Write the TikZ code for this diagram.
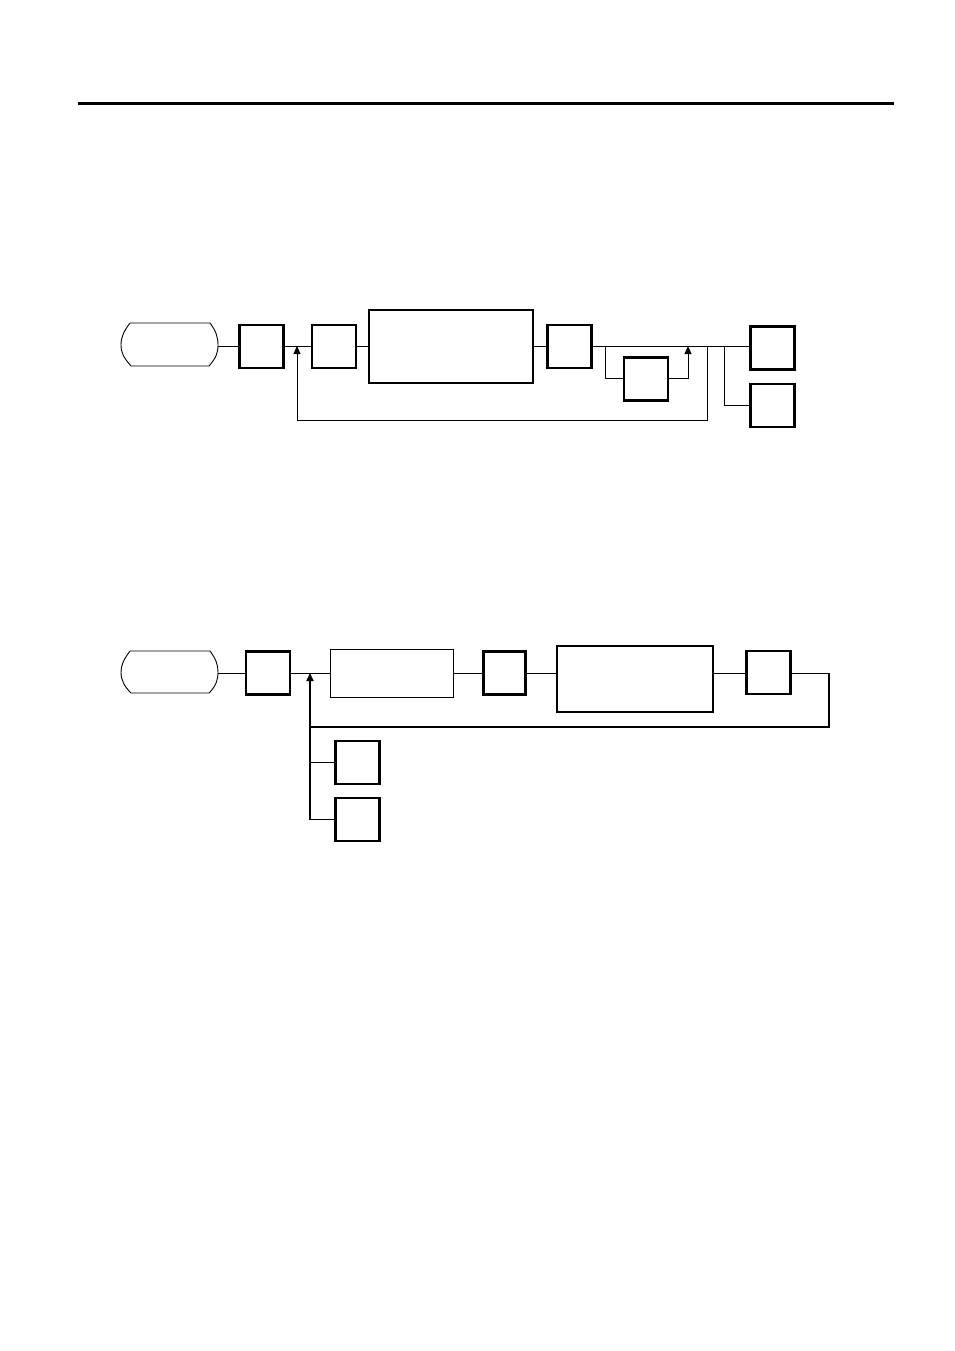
\documentclass[tikz,border=0pt]{standalone}
\usetikzlibrary{arrows.meta}

\tikzset{
  blk/.style={draw,line width=2.8pt,minimum width=44pt,minimum height=43pt,inner sep=0pt},
  bigblk/.style={draw,line width=1.8pt,inner sep=0pt},
  thinblk/.style={draw,line width=1.2pt,inner sep=0pt},
  lnk/.style={line width=0.9pt},
  fbk/.style={line width=1.8pt},
  arr/.style={-{Triangle[length=8pt,width=7pt]}}
}

\begin{document}
\begin{tikzpicture}[x=1pt,y=-1pt]
         \useasboundingbox (0,0) rectangle (954,1351);
         %\draw[very thin,gray,step=50] (0,0) grid (954,1351) ;
         \draw[line width=3pt] (78,103.5) -- (894,103.5) ;
         % first chart
         \draw[lnk] (130,323) -- (210,323) .. controls (216,331) and (218,337) .. (218,345)
            .. controls (218,353) and (216,358) .. (209,366) -- (131,366)
            .. controls (124,358) and (121,353) .. (121,345)
            .. controls (121,337) and (124,331) .. (130,323) ;
         \coordinate (t1) at (218,346) ;
         \node[blk] (a1) at (261.5,346.5) {} ;
         \node[blk] (a2) at (334,346.5) {} ;
         \node[bigblk,minimum width=164pt,minimum height=73pt] (a3) at (451.3,346.5) {} ;
         \node[blk] (a4) at (569.5,346.5) {} ;
         \node[blk] (a5) at (646,378.7) {} ;
         \node[blk] (a6) at (772.7,348) {} ;
         \node[blk] (a7) at (772.7,405.5) {} ;
         \coordinate (j1) at (297,346) ;
         \coordinate (j2) at (707,346) ;
         \coordinate (b1) at (605,346) ;
         \coordinate (b2) at (688,346) ;
         \coordinate (b3) at (724,346) ;
         \draw[lnk] (t1) -- (a1.west |- t1) ;
         \draw[lnk] (a1.east |- t1) -- (a2.west |- t1) ;
         \draw[lnk] (a2.east |- t1) -- (a3.west |- t1) ;
         \draw[lnk] (a3.east |- t1) -- (a4.west |- t1) ;
         \draw[lnk] (a4.east |- t1) -- (a6.west |- t1) ;
         \draw[lnk,arr] (j2) -- (707,420) -| (j1) ;
         \draw[lnk] (b1) |- (a5.west) ;
         \draw[lnk,arr] (a5.east) -| (b2) ;
         \draw[lnk] (b3) |- (a7.west) ;
         % second chart
         \draw[lnk] (130,651) -- (210,651) .. controls (216,659) and (218,665) .. (218,672)
            .. controls (218,680) and (216,686) .. (209,693) -- (131,693)
            .. controls (124,686) and (121,680) .. (121,672)
            .. controls (121,665) and (124,659) .. (130,651) ;
         \coordinate (t2) at (218,673) ;
         \node[blk] (c1) at (268,673) {} ;
         \node[thinblk,minimum width=123pt,minimum height=48pt] (c2) at (392.2,673.8) {} ;
         \node[blk,minimum width=42pt] (c3) at (504.8,673) {} ;
         \node[bigblk,minimum width=156pt,minimum height=66pt] (c4) at (635.2,678.9) {} ;
         \node[blk] (c5) at (768.7,672.5) {} ;
         \node[blk] (c6) at (357.8,762.5) {} ;
         \node[blk] (c7) at (357.8,819.5) {} ;
         \coordinate (j3) at (310,673) ;
         \coordinate (k1) at (829,673) ;
         \coordinate (k2) at (310,727) ;
         \draw[lnk] (t2) -- (c1.west |- t2) ;
         \draw[lnk] (c1.east |- t2) -- (c2.west |- t2) ;
         \draw[lnk] (c2.east |- t2) -- (c3.west |- t2) ;
         \draw[lnk] (c3.east |- t2) -- (c4.west |- t2) ;
         \draw[lnk] (c4.east |- t2) -- (c5.west |- t2) ;
         \draw[lnk] (c5.east |- t2) -- (k1) ;
         \draw[fbk] (k1) |- (k2) ;
         \draw[fbk,arr] (c7.west) -| (j3) ;
         \draw[lnk] (c6.west) -- (c6.west -| j3) ;
      \end{tikzpicture}
\end{document}
